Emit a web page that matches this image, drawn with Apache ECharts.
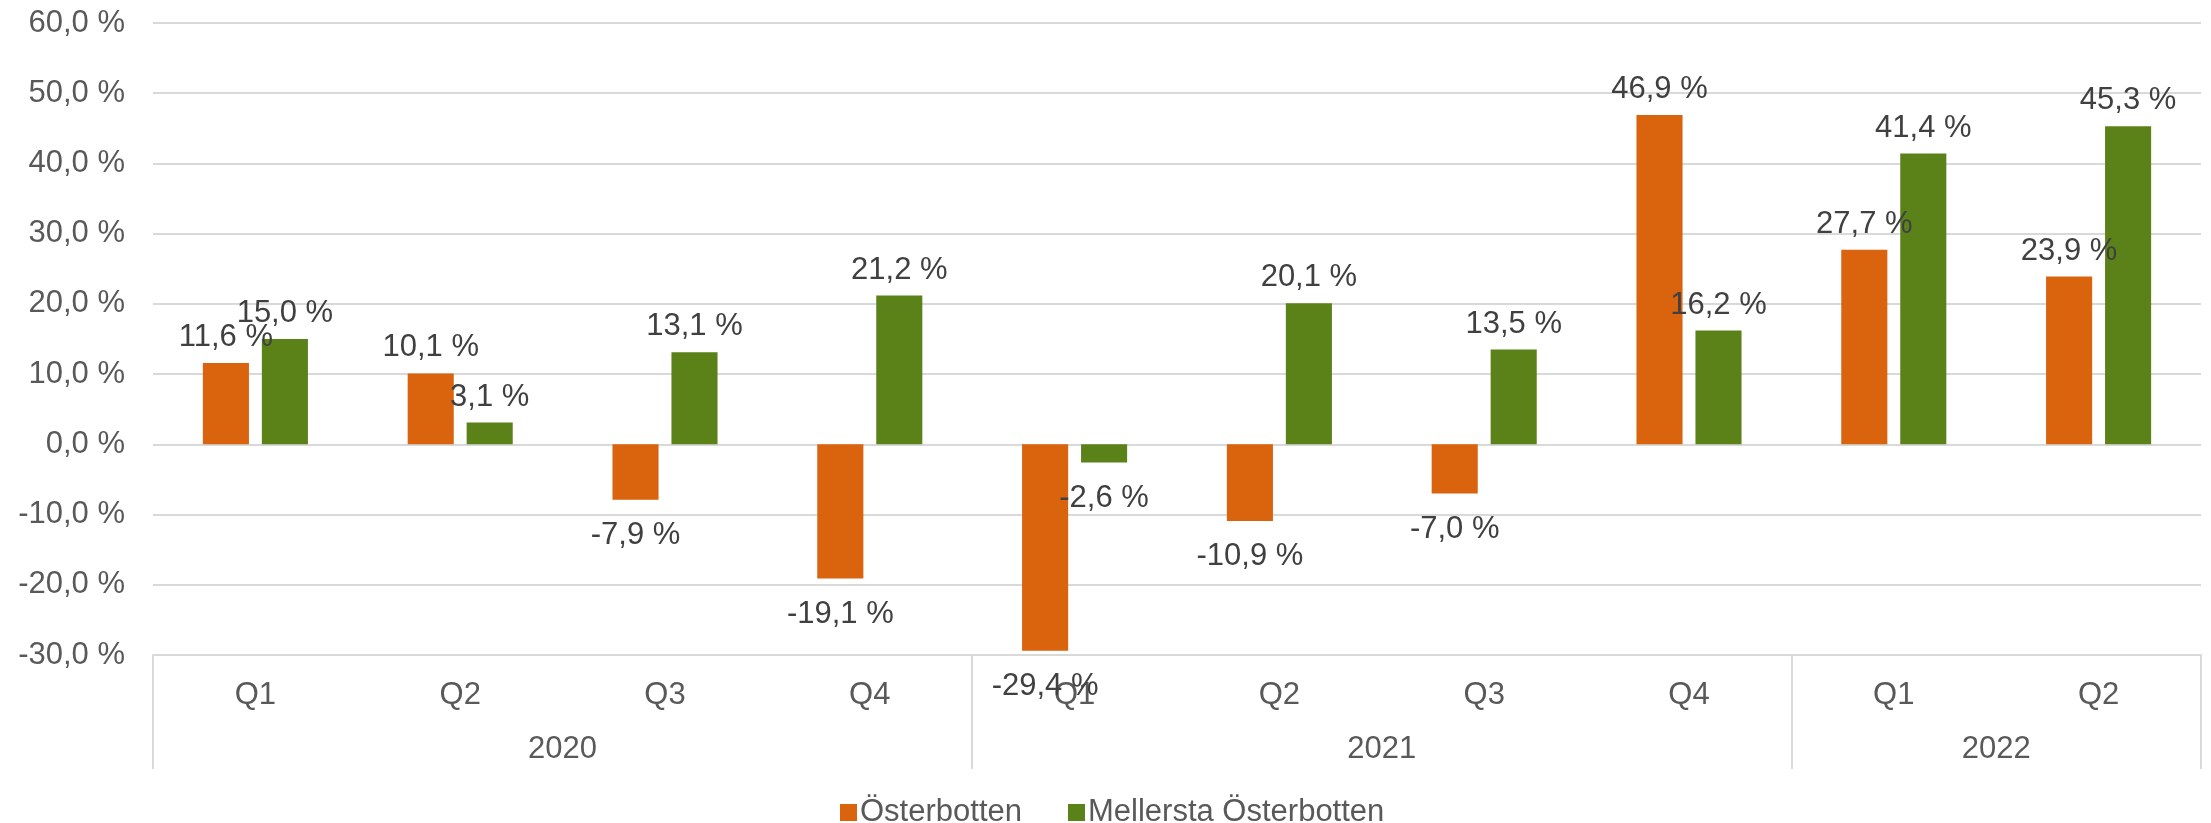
<!DOCTYPE html>
<html>
<head>
<meta charset="utf-8">
<script src="https://cdn.jsdelivr.net/npm/echarts@6/dist/echarts.min.js"></script>
<style>
  html, body { margin: 0; padding: 0; background: #fff; }
  #chart { width: 2211px; height: 823px; }
</style>
</head>
<body>
<div id="chart"></div>
<script>
const quarters = ['Q1', 'Q2', 'Q3', 'Q4', 'Q1', 'Q2', 'Q3', 'Q4', 'Q1', 'Q2']
const years = ['2020', '2021', '2022']
const quartersPerYear = [4, 4, 2]
const seriesNames = ['Österbotten', 'Mellersta Österbotten']
const osterbotten = [11.6, 10.1, -7.9, -19.1, -29.4, -10.9, -7.0, 46.9, 27.7, 23.9]
const mellersta = [15.0, 3.1, 13.1, 21.2, -2.6, 20.1, 13.5, 16.2, 41.4, 45.3]
const colors = ['#DA630E', '#5B8219']

const fontFamily = '"Liberation Sans", Arial, sans-serif'
const fmt = v => v.toFixed(1).replace('.', ',') + ' %'

// year boundaries and centres, in category units
const yearEdges = [0]
const yearCenters = []
quartersPerYear.forEach((n, i) => {
  yearCenters.push(yearEdges[i] + n / 2)
  yearEdges.push(yearEdges[i] + n)
})

const chart = echarts.init(document.getElementById('chart'))

function makeSeries(name, values, color) {
  return {
    name: name,
    type: 'bar',
    xAxisIndex: 0,
    barWidth: '22.5%',
    barGap: '28%',
    itemStyle: { color: color },
    data: values.map(v => ({
      value: v,
      label: { position: v < 0 ? 'bottom' : 'top', distance: v < 0 ? 20 : 10 }
    })),
    label: {
      show: true,
      fontFamily: fontFamily,
      fontSize: 31,
      color: '#404040',
      formatter: p => fmt(p.value)
    }
  }
}

const option = {
  backgroundColor: '#fff',
  animation: false,
  textStyle: { fontFamily: fontFamily },
  grid: { left: 153, right: 10, top: 23, bottom: 168 },
  legend: {
    left: 835,
    top: 792,
    itemWidth: 17,
    itemHeight: 17,
    itemGap: 46,
    icon: 'rect',
    textStyle: { fontSize: 31, color: '#595959', fontFamily: fontFamily, padding: [0, 0, 0, -2] },
    data: seriesNames
  },
  xAxis: [
    {
      type: 'category',
      position: 'bottom',
      data: quarters,
      axisLine: { onZero: false, lineStyle: { color: '#D9D9D9', width: 2 } },
      axisTick: { show: false },
      axisLabel: { fontSize: 31, color: '#595959', margin: 25 },
      splitLine: { show: false }
    },
    {
      type: 'value',
      position: 'bottom',
      min: 0,
      max: quarters.length,
      axisLine: { show: false, onZero: false },
      splitLine: { show: false },
      axisTick: {
        show: true,
        length: 114,
        customValues: yearEdges,
        lineStyle: { color: '#D9D9D9', width: 2 }
      },
      axisLabel: {
        fontSize: 31,
        color: '#595959',
        margin: 79,
        customValues: yearCenters,
        formatter: v => {
          const i = yearCenters.indexOf(v)
          return i >= 0 ? years[i] : ''
        }
      }
    }
  ],
  yAxis: {
    type: 'value',
    min: -30,
    max: 60,
    interval: 10,
    axisLine: { show: false },
    axisTick: { show: false },
    axisLabel: { fontSize: 31, color: '#595959', margin: 28, formatter: fmt },
    splitLine: { lineStyle: { color: '#D9D9D9', width: 2 } }
  },
  series: [
    makeSeries(seriesNames[0], osterbotten, colors[0]),
    makeSeries(seriesNames[1], mellersta, colors[1])
  ]
}

chart.setOption(option)
</script>
</body>
</html>
